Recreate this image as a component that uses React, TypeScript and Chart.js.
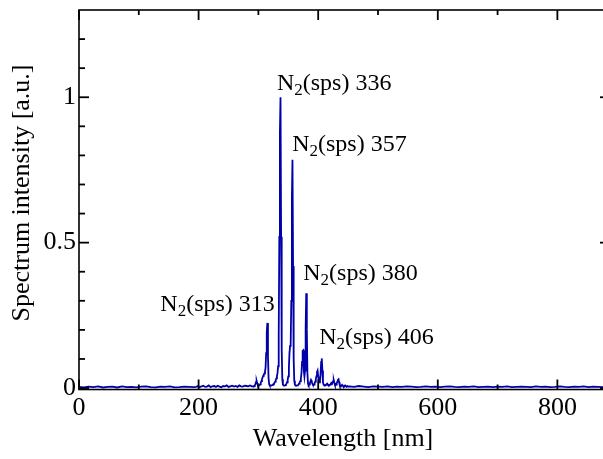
import React, { useEffect, useRef } from "react";
import { Chart, registerables } from "chart.js";

Chart.register(...registerables);

const FONT = '"Liberation Serif", "Times New Roman", serif';

// ---- spectrum data (wavelength in nm, intensity in a.u.) ----
const uvNm = [0, 8, 16, 24, 32, 40, 48, 56, 64, 72, 80, 88, 96, 104, 112, 120, 128, 136, 144, 152, 160, 168, 176, 184, 192];
const uvVal = [0.004, 0.002, 0.005, 0.003, 0.006, 0.002, 0.004, 0.005, 0.002, 0.006, 0.003, 0.004, 0.002, 0.005, 0.006, 0.003, 0.002, 0.005, 0.004, 0.006, 0.002, 0.003, 0.005, 0.004, 0.003];

const preNm = [196, 199, 202, 205, 208, 211, 214, 217, 220, 223, 226, 229, 232, 235, 238, 241, 244, 247, 250, 253, 256, 259, 262, 265, 268, 271, 274, 277, 280, 283, 286, 289];
const preVal = [0.004, 0.007, 0.003, 0.006, 0.008, 0.004, 0.005, 0.009, 0.003, 0.006, 0.007, 0.004, 0.008, 0.005, 0.003, 0.007, 0.006, 0.009, 0.004, 0.006, 0.008, 0.005, 0.007, 0.004, 0.009, 0.006, 0.005, 0.008, 0.007, 0.006, 0.009, 0.006];

const bandNm = [
  290, 291, 292, 293, 294, 295, 296, 297, 298, 299,
  300, 301, 302, 303, 304, 305, 306, 307, 308, 309,
  310, 311, 312, 313, 314, 315, 316, 317, 318, 319,
  320, 321, 322, 323, 324, 325, 326, 327, 328, 329,
  330, 331, 332, 333, 334, 335, 336, 337, 338, 339,
  340, 341, 342, 343, 344, 345, 346, 347, 348, 349,
  350, 351, 352, 353, 354, 355, 356, 357, 358, 359,
  360, 361, 362, 363, 364, 365, 366, 367, 368, 369,
  370, 371, 372, 373, 374, 375, 376, 377, 378, 379,
  380, 381, 382, 383, 384, 385, 386, 387, 388, 389,
  390, 391, 392, 393, 394, 395, 396, 397, 398, 399,
  400, 401, 402, 403, 404, 405, 406, 407, 408, 409,
  410, 411, 412, 413, 414, 415, 416, 417, 418, 419,
  420, 421, 422, 423, 424, 425, 426, 427, 428, 429,
  430, 431, 432, 433, 434, 435, 436, 437, 438, 439,
  440, 441, 442, 443, 444, 445, 446, 447, 448, 449,
  450,
];
const bandVal = [
  0.006, 0.005, 0.006, 0.007, 0.009, 0.013, 0.020, 0.025, 0.017, 0.010,
  0.008, 0.008, 0.010, 0.013, 0.018, 0.024, 0.030, 0.036, 0.042, 0.046,
  0.050, 0.056, 0.070, 0.120, 0.190, 0.224, 0.110, 0.035, 0.013, 0.009,
  0.008, 0.008, 0.009, 0.010, 0.011, 0.013, 0.015, 0.018, 0.022, 0.027,
  0.033, 0.040, 0.052, 0.075, 0.180, 0.520, 0.880, 1.000, 0.520, 0.130,
  0.030, 0.012, 0.009, 0.008, 0.009, 0.010, 0.012, 0.015, 0.020, 0.028,
  0.040, 0.070, 0.120, 0.145, 0.150, 0.300, 0.650, 0.785, 0.420, 0.100,
  0.025, 0.012, 0.009, 0.008, 0.008, 0.009, 0.010, 0.012, 0.015, 0.019,
  0.024, 0.032, 0.050, 0.090, 0.128, 0.130, 0.060, 0.040, 0.060, 0.200,
  0.326, 0.200, 0.050, 0.015, 0.010, 0.012, 0.016, 0.022, 0.028, 0.024,
  0.016, 0.012, 0.010, 0.012, 0.016, 0.022, 0.030, 0.040, 0.055, 0.060,
  0.040, 0.025, 0.020, 0.025, 0.050, 0.090, 0.102, 0.060, 0.020, 0.012,
  0.010, 0.009, 0.010, 0.011, 0.013, 0.015, 0.012, 0.010, 0.009, 0.010,
  0.012, 0.015, 0.018, 0.016, 0.018, 0.024, 0.027, 0.018, 0.011, 0.010,
  0.012, 0.016, 0.022, 0.028, 0.030, 0.020, 0.011, 0.008, 0.007, 0.009,
  0.011, 0.008, 0.006, 0.005, 0.007, 0.009, 0.007, 0.005, 0.006, 0.007,
  0.005,
];

const visNm = [452, 460, 468, 476, 484, 492, 500, 508, 516, 524, 532, 540, 548, 556, 564, 572, 580, 588, 596, 604, 612, 620, 628, 636, 644, 652, 660, 668, 676, 684, 692, 700, 708, 716, 724, 732, 740, 748, 756, 764, 772, 780, 788, 796, 804, 812, 820, 828, 836, 844, 852, 860, 868, 876, 884, 888];
const visVal = [
  0.006, 0.004, 0.007, 0.005, 0.003, 0.006, 0.005, 0.004,
  0.006, 0.003, 0.005, 0.004, 0.006, 0.005, 0.003, 0.004,
  0.006, 0.004, 0.005, 0.003, 0.005, 0.006, 0.004, 0.003,
  0.005, 0.004, 0.006, 0.003, 0.004, 0.005, 0.003, 0.005,
  0.004, 0.006, 0.003, 0.004, 0.005, 0.004, 0.003, 0.006,
  0.004, 0.005, 0.003, 0.004, 0.006, 0.004, 0.003, 0.005,
  0.004, 0.006, 0.003, 0.005, 0.004, 0.003, 0.005, 0.004,
];

// ---- axes / ticks ----
const xMin = 0;
const xMax = 888;
const yMin = -0.005;
const yMax = 1.3;
const xMajorTicks = [0, 200, 400, 600, 800];
const xMinorTicks = [100, 300, 500, 700];
const yMajorTicks = [0, 0.5, 1];
const yMinorTicks = [0.1, 0.2, 0.3, 0.4, 0.6, 0.7, 0.8, 0.9, 1.1, 1.2];
const xTitle = "Wavelength [nm]";
const yTitle = "Spectrum intensity [a.u.]";

// ---- peak annotations: "N2(sps) xxx" ----
const peakNames = ["313", "336", "357", "380", "406"];
const peakLabelNm = [136, 331, 356.5, 375, 401.7];
const peakLabelIntensity = [0.265, 1.025, 0.815, 0.371, 0.151];

const framePlugin = {
  id: "frameTicks",
  afterDraw(chart: any) {
    const { ctx, chartArea: a, scales } = chart;
    const xs = scales.x;
    const ys = scales.y;
    ctx.save();
    ctx.strokeStyle = "#000";
    ctx.lineWidth = 1.6;
    ctx.strokeRect(a.left, a.top, a.right - a.left, a.bottom - a.top);
    const seg = (x1: number, y1: number, x2: number, y2: number) => {
      ctx.beginPath();
      ctx.moveTo(x1, y1);
      ctx.lineTo(x2, y2);
      ctx.stroke();
    };
    ctx.lineWidth = 1.8;
    for (const v of xMajorTicks) {
      const p = xs.getPixelForValue(v);
      seg(p, a.bottom, p, a.bottom - 10);
      seg(p, a.top, p, a.top + 10);
    }
    for (const v of xMinorTicks) {
      const p = xs.getPixelForValue(v);
      seg(p, a.bottom, p, a.bottom - 5);
      seg(p, a.top, p, a.top + 5);
    }
    for (const v of yMajorTicks) {
      const p = ys.getPixelForValue(v);
      seg(a.left, p, a.left + 10, p);
      seg(a.right, p, a.right - 10, p);
    }
    for (const v of yMinorTicks) {
      const p = ys.getPixelForValue(v);
      seg(a.left, p, a.left + 6, p);
      seg(a.right, p, a.right - 6, p);
    }

    // annotations
    ctx.fillStyle = "#000";
    ctx.textBaseline = "alphabetic";
    ctx.textAlign = "left";
    const big = `24px ${FONT}`;
    const small = `17px ${FONT}`;
    peakNames.forEach((name, i) => {
      let x = xs.getPixelForValue(peakLabelNm[i]);
      const y = ys.getPixelForValue(peakLabelIntensity[i]);
      ctx.font = big;
      ctx.fillText("N", x, y);
      x += ctx.measureText("N").width;
      ctx.font = small;
      ctx.fillText("2", x, y + 5);
      x += ctx.measureText("2").width;
      ctx.font = big;
      ctx.fillText("(sps) " + name, x, y);
    });

    // axis titles
    ctx.font = `26px ${FONT}`;
    ctx.textAlign = "center";
    ctx.fillText(xTitle, 343, 446);
    ctx.translate(29, 193);
    ctx.rotate(-Math.PI / 2);
    ctx.fillText(yTitle, 0, 0);
    ctx.restore();
  },
};

export default function App() {
  const ref = useRef<HTMLCanvasElement | null>(null);
  useEffect(() => {
    if (!ref.current) return;
    const nm = [...uvNm, ...preNm, ...bandNm, ...visNm];
    const val = [...uvVal, ...preVal, ...bandVal, ...visVal];
    const points = nm.map((x, i) => ({ x, y: val[i] }));
    const chart = new Chart(ref.current, {
      type: "line",
      data: {
        datasets: [
          {
            data: points,
            borderColor: "rgb(0,0,170)",
            borderWidth: 1.8,
            pointRadius: 0,
            tension: 0,
            fill: false,
          },
        ],
      },
      options: {
        animation: false,
        responsive: false,
        devicePixelRatio: 1,
        layout: { padding: { top: 10, right: 2, left: 0, bottom: 0 } },
        plugins: { legend: { display: false }, tooltip: { enabled: false } },
        scales: {
          x: {
            type: "linear",
            min: xMin,
            max: xMax,
            grid: { display: false, drawTicks: false },
            border: { display: false },
            ticks: {
              stepSize: 200,
              includeBounds: false,
              padding: 3,
              color: "#000",
              font: { family: FONT, size: 26 },
              maxRotation: 0,
              callback: (v: any) => (xMajorTicks.includes(Number(v)) ? String(v) : ""),
            },
            afterFit: (s: any) => {
              s.height = 69.5;
              s.paddingLeft = 0;
              s.paddingRight = 0;
            },
          },
          y: {
            type: "linear",
            min: yMin,
            max: yMax,
            grid: { display: false, drawTicks: false },
            border: { display: false },
            ticks: {
              stepSize: 0.5,
              includeBounds: false,
              padding: 3,
              color: "#000",
              font: { family: FONT, size: 26 },
              callback: (v: any) => {
                const n = Math.round(Number(v) * 10) / 10;
                return yMajorTicks.includes(n) ? String(n) : "";
              },
            },
            afterFit: (s: any) => {
              s.width = 79;
              s.paddingTop = 0;
              s.paddingBottom = 0;
            },
          },
        },
      },
      plugins: [framePlugin],
    });
    return () => chart.destroy();
  }, []);
  return (
    <div
      style={{
        position: "fixed",
        left: 0,
        top: 0,
        width: 603,
        height: 459,
        overflow: "hidden",
        background: "#fff",
      }}
    >
      <canvas ref={ref} width={612} height={459} style={{ display: "block", width: 612, height: 459 }} />
    </div>
  );
}
